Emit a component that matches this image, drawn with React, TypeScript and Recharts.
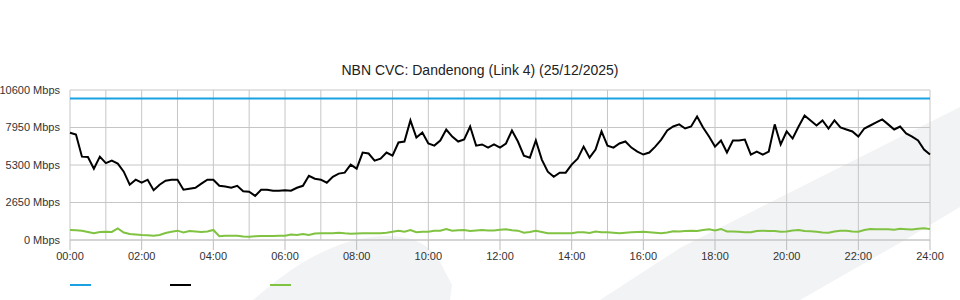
import React from 'react';
import { LineChart, Line, XAxis, YAxis, CartesianGrid } from 'recharts';

const TITLE = 'NBN CVC: Dandenong (Link 4) (25/12/2025)';
const SAMPLE_MINUTES = 10;

// link capacity (flat)
const capacityMbps = 10000;

// main traffic, one value every 10 minutes, 00:00 -> 24:00
const trafficMbps = [
  7580, 7460, 5890, 5860, 5040, 5890, 5430, 5610, 5400, 4830,
  3910, 4260, 4050, 4260, 3520, 3910, 4190, 4260, 4260, 3550,
  3620, 3690, 3980, 4260, 4260, 3830, 3780, 3690, 3830, 3440,
  3410, 3120, 3550, 3550, 3480, 3480, 3520, 3480, 3690, 3830,
  4540, 4330, 4260, 4050, 4470, 4690, 4760, 5330, 5040, 6180,
  6110, 5610, 5750, 6180, 5960, 6890, 6960, 8450, 7240, 7600,
  6820, 6670, 7030, 7810, 7310, 6960, 7100, 8020, 6670, 6750,
  6530, 6750, 6530, 6820, 7740, 6960, 5960, 5820, 7030, 5680,
  4830, 4470, 4760, 4760, 5330, 5750, 6600, 5820, 6390, 7670,
  6670, 6530, 6820, 6960, 6530, 6250, 6040, 6180, 6600, 7100,
  7740, 8020, 8170, 7880, 8020, 8730, 7950, 7310, 6600, 7030,
  6180, 7030, 7030, 7100, 6040, 6250, 6040, 6250, 8170, 6750,
  7670, 7170, 8020, 8800, 8450, 8090, 8450, 7880, 8450, 7950,
  7810, 7670, 7310, 7880, 8090, 8310, 8520, 8170, 7810, 8020,
  7530, 7310, 7030, 6390, 6040,
];

// low green series
const otherMbps = [
  710, 689, 660, 568, 476, 568, 589, 568, 817, 533,
  426, 391, 355, 334, 305, 355, 497, 589, 660, 533,
  639, 604, 568, 604, 710, 263, 305, 305, 305, 249,
  234, 263, 284, 284, 284, 305, 305, 391, 355, 426,
  355, 462, 476, 476, 476, 518, 476, 447, 462, 476,
  476, 476, 476, 518, 589, 660, 589, 710, 547, 589,
  589, 660, 660, 781, 660, 689, 710, 639, 675, 710,
  675, 675, 731, 760, 689, 660, 518, 568, 660, 568,
  476, 476, 476, 476, 476, 547, 547, 497, 604, 547,
  547, 518, 476, 518, 547, 568, 582, 547, 518, 476,
  533, 618, 604, 639, 660, 639, 710, 760, 675, 781,
  604, 604, 589, 554, 554, 639, 660, 639, 639, 589,
  604, 675, 710, 639, 625, 582, 533, 518, 604, 660,
  660, 604, 589, 710, 781, 760, 760, 760, 731, 795,
  767, 746, 795, 831, 781,
];

const yTicks = [0, 2650, 5300, 7950, 10600];
const xTicks = [0, 120, 240, 360, 480, 600, 720, 840, 960, 1080, 1200, 1320, 1440];
const hourTicks = [
  0, 60, 120, 180, 240, 300, 360, 420, 480, 540, 600, 660, 720,
  780, 840, 900, 960, 1020, 1080, 1140, 1200, 1260, 1320, 1380, 1440,
];

const series = [
  { key: 'capacity', color: '#1aa1e3' },
  { key: 'traffic', color: '#000000' },
  { key: 'other', color: '#80c242' },
];

const data = trafficMbps.map((v, i) => ({
  t: i * SAMPLE_MINUTES,
  capacity: capacityMbps,
  traffic: v,
  other: otherMbps[i],
}));

const fmtTime = (m: number) => `${String(Math.floor(m / 60)).padStart(2, '0')}:00`;

const axisText = { fontSize: 11, fill: '#333' };

// plain svg text so the label never wraps
const YTick = ({ x, y, payload }: any) => (
  <text x={x} y={y} dy="0.35em" textAnchor="end" fontSize={11} fill="#333">
    {`${payload.value} Mbps`}
  </text>
);

export default function App() {
  return (
    <div
      style={{
        position: 'absolute', left: 0, top: 0, width: 960, height: 300,
        background: '#fff', overflow: 'hidden',
        fontFamily: 'Arial, "Liberation Sans", sans-serif',
      }}
    >
      {/* faint watermark behind the chart */}
      <svg width={960} height={300} style={{ position: 'absolute', left: 0, top: 0 }}>
        <path d="M253,300 C290,268 330,240 380,236 C410,235 428,242 440,262 L452,285 L450,300 Z" fill="#f2f3f5" />
        <polygon points="600,300 680,248 765,205 960,107 960,207 905,240 800,300" fill="#f2f3f5" />
      </svg>

      <div style={{ position: 'absolute', top: 62, left: 0, width: 960, textAlign: 'center', fontSize: 14, color: '#222' }}>
        {TITLE}
      </div>

      <div style={{ position: 'absolute', left: 0, top: 0 }}>
        <LineChart width={960} height={300} data={data} margin={{ top: 90, right: 30, bottom: 30, left: 0 }}>
          <XAxis xAxisId="hours" dataKey="t" type="number" domain={[0, 1440]} ticks={hourTicks} height={0} hide />
          <CartesianGrid xAxisId="hours" stroke="#c6c6c6" />
          <XAxis
            dataKey="t"
            type="number"
            domain={[0, 1440]}
            ticks={xTicks}
            interval={0}
            height={30}
            tickFormatter={fmtTime}
            tick={axisText}
            tickSize={10}
            tickMargin={2}
            tickLine={{ stroke: '#bdbdbd' }}
            axisLine={{ stroke: '#c6c6c6' }}
          />
          <YAxis
            domain={[0, 10600]}
            ticks={yTicks}
            interval={0}
            width={70}
            axisLine={false}
            tickLine={false}
            tickSize={0}
            tickMargin={10}
            tick={<YTick />}
          />
          {series.map((s) => (
            <Line
              key={s.key}
              type="linear"
              dataKey={s.key}
              stroke={s.color}
              strokeWidth={2}
              dot={false}
              isAnimationActive={false}
            />
          ))}
        </LineChart>
      </div>

      {/* legend: colour swatches only */}
      {series.map((s, i) => (
        <div
          key={s.key}
          style={{ position: 'absolute', top: 284, left: 70 + i * 100, width: 21, height: 2, background: s.color }}
        />
      ))}
    </div>
  );
}
